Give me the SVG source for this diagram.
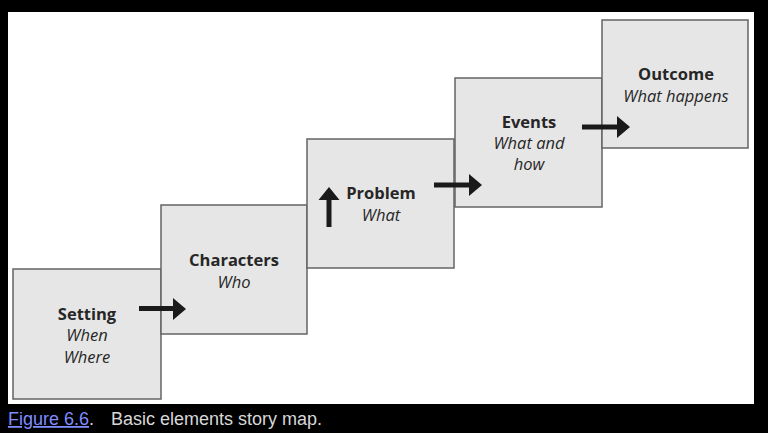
<svg xmlns="http://www.w3.org/2000/svg" width="768" height="433" viewBox="0 0 768 433">
  <defs>
    <style>
      .box { fill: #e6e6e6; stroke: #646464; stroke-width: 1.5; }
      .t { font-family: "Open Sans", "Noto Sans", sans-serif; font-size: 16.5px; fill: #262626; text-anchor: middle; }
      .b { font-weight: bold; }
      .i { font-style: italic; }
      .arrow { fill: #1a1a1a; }
      .cap { font-family: "Liberation Sans", Arial, sans-serif; font-size: 18px; fill: #d8d8d8; }
    </style>
  </defs>
  <rect x="0" y="0" width="768" height="433" fill="#000000"/>
  <rect x="8" y="12" width="746" height="392" fill="#ffffff"/>

  <g id="setting">
    <rect class="box" x="13" y="269" width="148" height="130"/>
    <text class="t b" x="87" y="320">Setting</text>
    <text class="t i" x="87" y="341">When</text>
    <text class="t i" x="87" y="363">Where</text>
  </g>
  <g id="characters">
    <rect class="box" x="161" y="205" width="146" height="129"/>
    <text class="t b" x="234" y="266">Characters</text>
    <text class="t i" x="234" y="288">Who</text>
  </g>
  <g id="problem">
    <rect class="box" x="307" y="139" width="147" height="129"/>
    <text class="t b" x="381" y="199">Problem</text>
    <text class="t i" x="381" y="221">What</text>
  </g>
  <g id="events">
    <rect class="box" x="455" y="78" width="147" height="129"/>
    <text class="t b" x="529" y="128">Events</text>
    <text class="t i" x="529" y="149">What and</text>
    <text class="t i" x="529" y="170">how</text>
  </g>
  <g id="outcome">
    <rect class="box" x="602" y="20" width="146" height="128"/>
    <text class="t b" x="676" y="80">Outcome</text>
    <text class="t i" x="676" y="102">What happens</text>
  </g>

  <g id="connectors">
    <path class="arrow" d="M139,306 H173 V298 L186,309 L173,320 V311 H139 Z"/>
    <path class="arrow" d="M326.5,227 V200 H318.5 L329,187 L339.5,200 H331.5 V227 Z"/>
    <path class="arrow" d="M434,182.5 H469 V174 L482,185 L469,196 V187.5 H434 Z"/>
    <path class="arrow" d="M582,124.5 H617 V116 L630,127 L617,138 V129.5 H582 Z"/>
  </g>

  <g id="caption">
    <text class="cap" x="8" y="425"><tspan fill="#7f8cff" text-decoration="underline">Figure 6.6</tspan><tspan fill="#d8d8d8">.</tspan></text>
    <text class="cap" x="111" y="425">Basic elements story map.</text>
  </g>
</svg>
